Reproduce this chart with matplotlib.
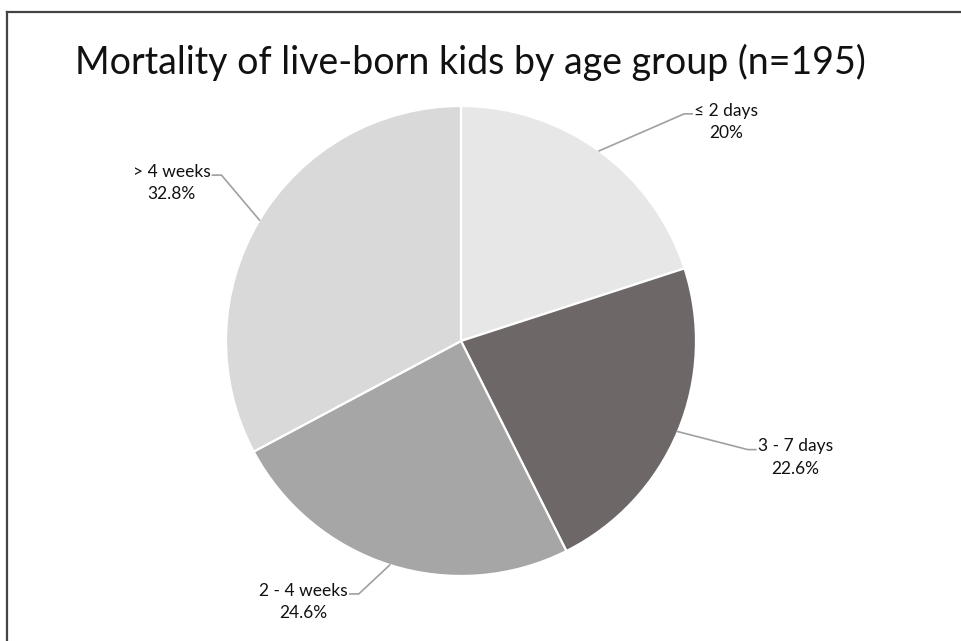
import numpy as np
import matplotlib
matplotlib.use("Agg")
import matplotlib.pyplot as plt
from matplotlib.lines import Line2D

title = "Mortality of live-born kids by age group (n=195)"
categories = ["\u2264 2 days", "3 - 7 days", "2 - 4 weeks", "> 4 weeks"]
values = [20.0, 22.6, 24.6, 32.8]
value_labels = ["20%", "22.6%", "24.6%", "32.8%"]
colors = ["#e8e7e8", "#6d6767", "#a6a6a6", "#d9d9d9"]

W, H = 962, 641
fig = plt.figure(figsize=(W / 100, H / 100), dpi=100)
fig.patch.set_facecolor("white")
ax = fig.add_axes([0, 0, 1, 1])

cx, cy, r = 461, H - 341, 235
wedges, _ = ax.pie(values, colors=colors, startangle=90, counterclock=False,
                   center=(cx, cy), radius=r, frame=True,
                   wedgeprops=dict(edgecolor="white", linewidth=1.6))
ax.set_xlim(0, W)
ax.set_ylim(0, H)
ax.set_aspect("auto")
ax.axis("off")

# border lines (top and left)
fig.add_artist(Line2D([7 / W, 1], [1 - 12 / H, 1 - 12 / H], transform=fig.transFigure,
                      color="#444444", lw=1.6))
fig.add_artist(Line2D([7 / W, 7 / W], [0, 1 - 12 / H], transform=fig.transFigure,
                      color="#444444", lw=1.6))

fig.text(470 / W, 1 - 62 / H, title, ha="center", va="center",
         fontsize=27, family="Lato", color="#111111")

# label layout: (elbow dx, elbow dy) offset from edge, horizontal segment length, text anchor
layout = [
    ((85, 37), 8, "left"),
    ((70, -18), 8, "left"),
    ((-31, -29), -9, "right"),
    ((-38, 45), -9, "right"),
]
cum = np.cumsum([0] + values)
total = sum(values)
for i, (cat, lab) in enumerate(zip(categories, value_labels)):
    mid = 90 - 360 * (cum[i] + values[i] / 2) / total
    a = np.deg2rad(mid)
    x0, y0 = cx + r * np.cos(a), cy + r * np.sin(a)
    (dx, dy), hl, ha = layout[i]
    x1, y1 = x0 + dx, y0 + dy
    x2 = x1 + hl
    ax.plot([x0, x1, x2], [y0, y1, y1], color="#a0a0a0", lw=1.2)
    tx = x2 + (2 if hl > 0 else -2)
    txt = f"{cat}\n{lab}"
    ax.text(tx, y1 - 8, txt, ha=ha, va="center", fontsize=12.5,
            family="Lato", color="#111111", linespacing=1.5,
            multialignment="center")

fig.savefig("out.png", dpi=100, facecolor="white")
